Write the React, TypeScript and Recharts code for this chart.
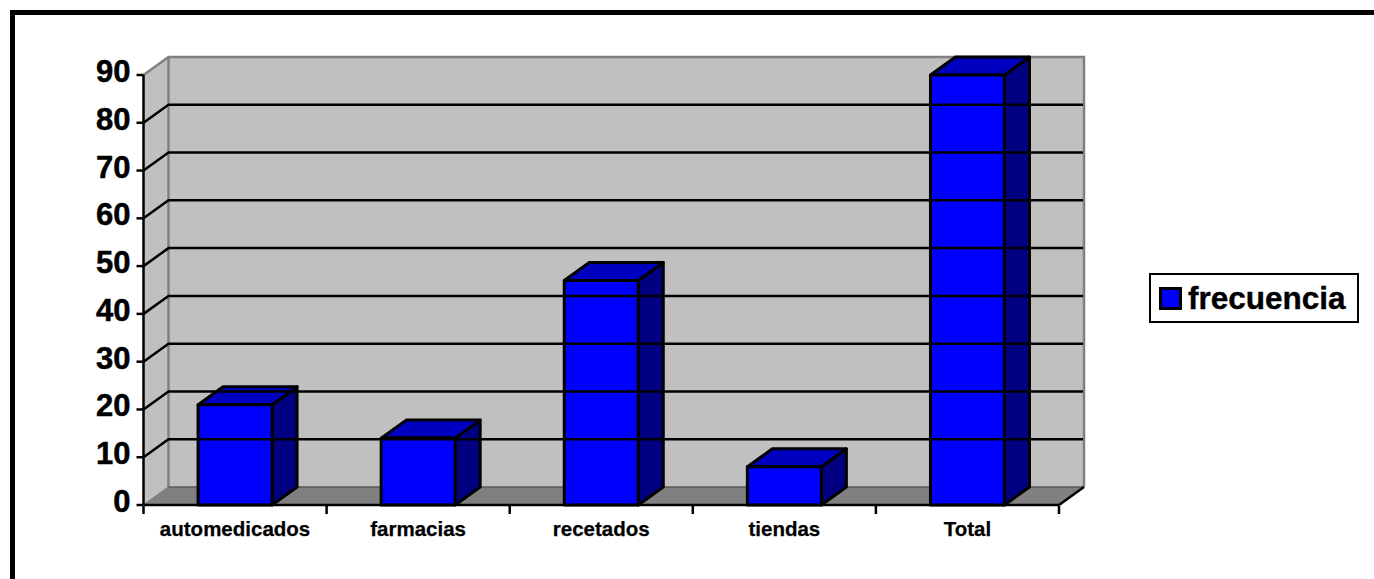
import React from "react";
import { BarChart, Bar, XAxis, YAxis, Legend, ReferenceArea, ReferenceLine } from "recharts";

const categories = ["automedicados", "farmacias", "recetados", "tiendas", "Total"];
const frecuencia = [21, 14, 47, 8, 90];
const yTicks = [0, 10, 20, 30, 40, 50, 60, 70, 80, 90];
const seriesName = "frecuencia";

const rows = categories.map((name, i) => ({ name, frecuencia: frecuencia[i] }));

// Oblique offset of the back plane of the 3D box.
const DX = 25;
const DY = 18;
const FONT = "'Liberation Sans', Arial, sans-serif";

const pts = (list: number[][]) => list.map((p) => p.join(",")).join(" ");

// Back wall, side wall and floor of the 3D plotting box.
function Box(props: any) {
  const { x, y, width, height } = props;
  const r = x + width;
  const b = y + height;
  return (
    <g>
      <polygon points={pts([[x, y], [x + DX, y - DY], [x + DX, b - DY], [x, b]])} fill="#c0c0c0" />
      <rect x={x + DX} y={y - DY} width={width} height={height} fill="#c0c0c0" />
      <polygon points={pts([[x, b], [x + DX, b - DY], [r + DX, b - DY], [r, b]])} fill="#808080" />
      <polyline points={pts([[x, y], [x + DX, y - DY], [r + DX, y - DY], [r + DX, b - DY]])} fill="none" stroke="#808080" strokeWidth={2.5} />
      <line x1={x + DX} y1={y - DY} x2={x + DX} y2={b - DY} stroke="#808080" strokeWidth={2.5} />
      <line x1={x} y1={b} x2={x + DX} y2={b - DY} stroke="#808080" strokeWidth={1.5} />
      <line x1={x + DX} y1={b - DY} x2={r + DX} y2={b - DY} stroke="#5a5a5a" strokeWidth={1.5} />
      <line x1={r} y1={b} x2={r + DX} y2={b - DY} stroke="#000" strokeWidth={2.5} />
    </g>
  );
}

// A gridline bends around the side wall and runs along the back wall.
function WallLine(props: any) {
  const { x1, x2, y1 } = props;
  return (
    <polyline
      points={pts([[x1, y1], [x1 + DX, y1 - DY], [x2 + DX - 1, y1 - DY]])}
      fill="none"
      stroke="#000"
      strokeWidth={2.5}
    />
  );
}

// Bar with its front face, top face and right side face.
function Bar3D(props: any) {
  const { x, y, width, height } = props;
  const r = x + width;
  const b = y + height;
  return (
    <g stroke="#000" strokeWidth={3} strokeLinejoin="round">
      <polygon points={pts([[r, y], [r + DX, y - DY], [r + DX, b - DY], [r, b]])} fill="#000080" />
      <polygon points={pts([[x, y], [x + DX, y - DY], [r + DX, y - DY], [r, y]])} fill="#0000c0" />
      <rect x={x} y={y} width={width} height={height} fill="#0000ff" />
    </g>
  );
}

// Category label; the tick marks sit on the band edges rather than at the centres.
function CategoryTick(props: any) {
  const { x, y, width, index, payload } = props;
  const band = width / categories.length;
  const top = y - 5;
  const left = x - band / 2;
  return (
    <g>
      <line x1={left} y1={top} x2={left} y2={top + 8} stroke="#000" strokeWidth={2.5} />
      {index === categories.length - 1 && (
        <line x1={left + band} y1={top} x2={left + band} y2={top + 8} stroke="#000" strokeWidth={2.5} />
      )}
      <text x={x} y={top + 30} textAnchor="middle" fontFamily={FONT} fontWeight="bold" fontSize={20.5} stroke="#000" strokeWidth={0.25} fill="#000">
        {payload.value}
      </text>
    </g>
  );
}

function ValueTick(props: any) {
  const { x, y, payload } = props;
  return (
    <text x={x} y={y + 7} textAnchor="end" fontFamily={FONT} fontWeight="bold" fontSize={31} stroke="#000" strokeWidth={0.5} fill="#000">
      {payload.value}
    </text>
  );
}

function LegendBox(props: any) {
  const item = props.payload?.[0];
  return (
    <div
      style={{
        boxSizing: "border-box",
        width: 210,
        height: 50,
        border: "2px solid #000",
        background: "#fff",
        display: "flex",
        alignItems: "center",
        paddingLeft: 8,
      }}
    >
      <span
        style={{
          boxSizing: "border-box",
          width: 23,
          height: 23,
          marginRight: 6,
          background: "#0000ff",
          border: "3px solid #000",
        }}
      />
      <span style={{ fontFamily: FONT, fontWeight: "bold", fontSize: 31.5, color: "#000", lineHeight: "46px", WebkitTextStroke: "0.4px #000" }}>
        {item?.value ?? seriesName}
      </span>
    </div>
  );
}

export default function App() {
  return (
    <div style={{ position: "absolute", left: 0, top: 0, width: 1374, height: 579, overflow: "hidden", background: "#fff" }}>
      <div
        style={{
          position: "absolute",
          left: 10,
          top: 10,
          right: 0,
          bottom: 0,
          borderTop: "5px solid #000",
          borderLeft: "5px solid #000",
        }}
      />
      <BarChart
        width={1374}
        height={579}
        data={rows}
        barCategoryGap="29.8%"
        margin={{ top: 75, right: 105, bottom: 0, left: 0 }}
        style={{ position: "absolute", left: 0, top: 0 }}
      >
        <ReferenceArea y1={0} y2={90} shape={<Box />} ifOverflow="visible" />
        {yTicks.slice(1, -1).map((v) => (
          <ReferenceLine key={v} y={v} shape={<WallLine />} ifOverflow="visible" />
        ))}
        <XAxis
          dataKey="name"
          interval={0}
          tickLine={false}
          tickMargin={0}
          tick={<CategoryTick />}
          axisLine={{ stroke: "#000", strokeWidth: 2.5 }}
          height={74}
        />
        <YAxis
          width={143.5}
          domain={[0, 90]}
          ticks={yTicks}
          interval={0}
          tickSize={7}
          tickMargin={6}
          tick={<ValueTick />}
          tickLine={{ stroke: "#000", strokeWidth: 2.5 }}
          axisLine={{ stroke: "#000", strokeWidth: 2.5 }}
        />
        <Bar dataKey="frecuencia" name={seriesName} shape={<Bar3D />} isAnimationActive={false} />
        <Legend
          content={<LegendBox />}
          layout="vertical"
          align="right"
          verticalAlign="top"
          wrapperStyle={{ position: "absolute", left: 1149, top: 273, width: 210, height: 50 }}
        />
      </BarChart>
    </div>
  );
}
